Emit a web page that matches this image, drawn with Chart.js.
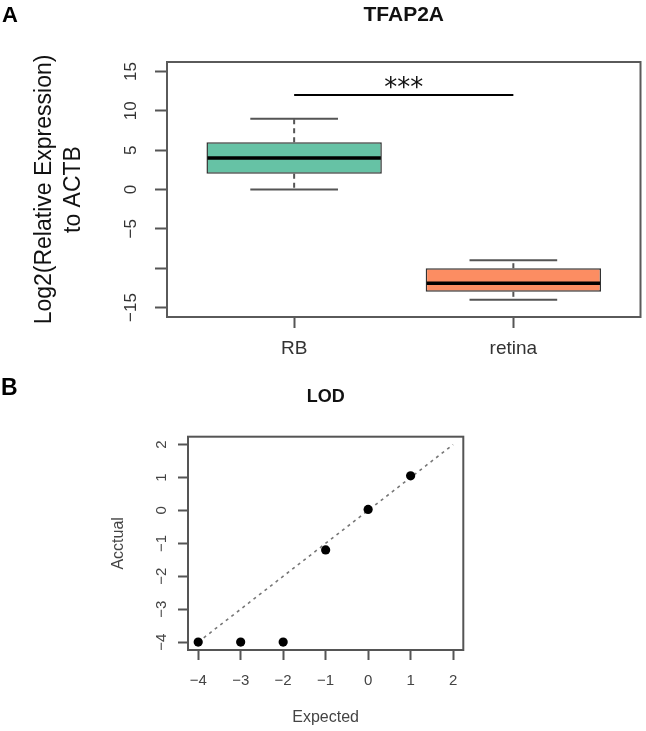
<!DOCTYPE html>
<html><head><meta charset="utf-8">
<script src="https://cdn.jsdelivr.net/npm/chart.js@4.4.1/dist/chart.umd.min.js"></script>
<style>
html,body{margin:0;padding:0;background:#fff;}
#wrap{position:relative;width:646px;height:731px;overflow:hidden;background:#fff;}
#cA{position:absolute;left:0;top:0;}
#cB{position:absolute;left:0;top:360px;}
</style></head><body>
<div id="wrap"><canvas id="cA" width="646" height="360"></canvas><canvas id="cB" width="646" height="371"></canvas></div>
<script>
// ---- Panel A: TFAP2A boxplot ----
const boxCategories = ['RB', 'retina'];
const boxMin    = [0, -14];
const boxQ1     = [2, -13];
const boxMedian = [4, -11.9];
const boxQ3     = [6, -10];
const boxMax    = [9, -9];
const boxFill   = ['#66C2A5', '#FC8D62'];
const aYTicks      = [-15, -10, -5, 0, 5, 10, 15];
const aYTickLabels = ['−15', '', '−5', '0', '5', '10', '15'];
const sigFrom = 1, sigTo = 2, sigY = 12, sigLabel = '***';

// ---- Panel B: LOD scatter ----
const lodExpected = [-4, -3, -2, -1, 0, 1];
const lodActual   = [-4, -4, -4, -1.2, 0.03, 1.05];
const refLineX = [-4, 2];
const refLineY = [-4, 2];
const bXTicks = [-4, -3, -2, -1, 0, 1, 2];
const bYTicks = [-4, -3, -2, -1, 0, 1, 2];

const FONT = '"Liberation Sans", Arial, Helvetica, sans-serif';
const fmt = v => v < 0 ? '−' + Math.abs(v) : String(v);

const framePlugin = {
  id: 'frame',
  afterDraw(chart, args, o) {
    const {ctx, chartArea: a} = chart;
    ctx.save();
    ctx.strokeStyle = o.color; ctx.lineWidth = o.width;
    ctx.strokeRect(a.left, a.top, a.right - a.left, a.bottom - a.top);
    ctx.restore();
  }
};

const letterPlugin = {
  id: 'letter',
  afterDraw(chart, args, o) {
    const ctx = chart.ctx;
    ctx.save();
    ctx.fillStyle = '#000';
    ctx.font = 'bold ' + o.size + 'px ' + FONT;
    ctx.textBaseline = 'alphabetic'; ctx.textAlign = 'left';
    ctx.fillText(o.text, o.x, o.y);
    ctx.restore();
  }
};

function seg(ctx, x1, y1, x2, y2) { ctx.beginPath(); ctx.moveTo(x1, y1); ctx.lineTo(x2, y2); ctx.stroke(); }

const boxPlugin = {
  id: 'boxExtras',
  beforeDatasetsDraw(chart) {
    const meta = chart.getDatasetMeta(0), y = chart.scales.y, ctx = chart.ctx;
    meta.data.forEach((bar, i) => {
      const x = bar.x, hw = bar.width / 4;
      const pMax = y.getPixelForValue(boxMax[i]), pMin = y.getPixelForValue(boxMin[i]);
      ctx.save();
      ctx.strokeStyle = '#555'; ctx.lineWidth = 2;
      ctx.setLineDash([5, 4]);
      seg(ctx, x, y.getPixelForValue(boxQ3[i]), x, pMax);
      seg(ctx, x, y.getPixelForValue(boxQ1[i]), x, pMin);
      ctx.setLineDash([]);
      seg(ctx, x - hw, pMax, x + hw, pMax);
      seg(ctx, x - hw, pMin, x + hw, pMin);
      ctx.restore();
    });
  },
  afterDatasetsDraw(chart) {
    const meta = chart.getDatasetMeta(0), xs = chart.scales.x, y = chart.scales.y, ctx = chart.ctx;
    meta.data.forEach((bar, i) => {
      const pm = y.getPixelForValue(boxMedian[i]);
      ctx.save(); ctx.strokeStyle = '#000'; ctx.lineWidth = 3.5;
      seg(ctx, bar.x - bar.width / 2 + 1, pm, bar.x + bar.width / 2 - 1, pm);
      ctx.restore();
    });
    ctx.save();
    ctx.fillStyle = '#111';
    ctx.font = '26px "DejaVu Sans", sans-serif';
    ctx.textAlign = 'center'; ctx.textBaseline = 'alphabetic';
    ctx.fillText(sigLabel, xs.getPixelForValue((sigFrom + sigTo) / 2), y.getPixelForValue(sigY) + 1);
    ctx.restore();
  }
};

new Chart(document.getElementById('cA'), {
  type: 'bar',
  data: {
    datasets: [
      { type: 'bar', data: boxCategories.map((c, i) => ({x: i + 1, y: [boxQ1[i], boxQ3[i]]})),
        backgroundColor: boxFill, borderColor: '#333', borderWidth: 1.5, borderSkipped: false,
        barPercentage: 0.8, categoryPercentage: 1, order: 2 },
      { type: 'line', data: [{x: sigFrom, y: sigY}, {x: sigTo, y: sigY}],
        borderColor: '#000', borderWidth: 2, pointRadius: 0, order: 1 }
    ]
  },
  options: {
    responsive: false, animation: false, devicePixelRatio: 1,
    layout: {padding: {left: 0, right: 5.5, top: 0, bottom: 0}},
    plugins: {
      legend: {display: false}, tooltip: {enabled: false},
      title: {display: true, text: 'TFAP2A', fullSize: false, color: '#111',
        font: {family: FONT, size: 21, weight: 'bold'}, padding: {top: 3, bottom: 33.8}},
      frame: {color: '#5a5a5a', width: 2},
      letter: {text: 'A', x: 2, y: 22, size: 22}
    },
    scales: {
      x: { type: 'linear', position: 'bottom', min: 0.42, max: 2.58, offset: false,
        afterBuildTicks: s => { s.ticks = boxCategories.map((c, i) => ({value: i + 1})); },
        afterFit: s => { s.height = 43; },
        ticks: { callback: (v, i) => boxCategories[i], font: {family: FONT, size: 19}, color: '#333',
          padding: 9.6, maxRotation: 0, autoSkip: false },
        grid: { display: true, offset: false, drawOnChartArea: false, drawTicks: true, tickLength: 11, tickColor: '#555', tickWidth: 2 },
        border: {display: false} },
      y: { min: -16.2, max: 16.2,
        afterBuildTicks: s => { s.ticks = aYTicks.map(v => ({value: v})); },
        afterFit: s => { s.width = 167; },
        ticks: { callback: (v, i) => aYTickLabels[i], minRotation: 90, maxRotation: 90, crossAlign: 'center',
          padding: 9.5, font: {family: FONT, size: 17}, color: '#333', autoSkip: false },
        grid: { display: true, drawOnChartArea: false, drawTicks: true, tickLength: 12, tickColor: '#555', tickWidth: 2 },
        border: {display: false},
        title: { display: true, text: ['Log2(Relative Expression)', 'to ACTB'], color: '#111',
          font: {family: FONT, size: 23, lineHeight: 29 / 23}, padding: {top: 30.5, bottom: 0} } }
    }
  },
  plugins: [framePlugin, boxPlugin, letterPlugin]
});

new Chart(document.getElementById('cB'), {
  type: 'scatter',
  data: {
    datasets: [
      { type: 'line', data: refLineX.map((x, i) => ({x: x, y: refLineY[i]})),
        borderColor: '#777', borderDash: [3, 4], borderWidth: 1.6, pointRadius: 0, showLine: true, order: 2 },
      { type: 'scatter', data: lodExpected.map((x, i) => ({x: x, y: lodActual[i]})),
        backgroundColor: '#000', borderColor: '#000', borderWidth: 0, pointRadius: 4.6, order: 1 }
    ]
  },
  options: {
    responsive: false, animation: false, devicePixelRatio: 1,
    layout: {padding: {left: 0, right: 182.7, top: 0, bottom: 0}},
    plugins: {
      legend: {display: false}, tooltip: {enabled: false},
      title: {display: true, text: 'LOD', fullSize: false, color: '#111',
        font: {family: FONT, size: 18, weight: 'bold'}, padding: {top: 25.9, bottom: 29.2}},
      frame: {color: '#555', width: 2},
      letter: {text: 'B', x: 1, y: 35, size: 23}
    },
    scales: {
      x: { type: 'linear', min: -4.24, max: 2.24,
        afterBuildTicks: s => { s.ticks = bXTicks.map(v => ({value: v})); },
        afterFit: s => { s.height = 81; },
        ticks: { callback: v => fmt(v), font: {family: FONT, size: 15}, color: '#444', padding: 12, maxRotation: 0, autoSkip: false },
        grid: { display: true, drawOnChartArea: false, drawTicks: true, tickLength: 10, tickColor: '#555', tickWidth: 2 },
        border: {display: false},
        title: { display: true, text: 'Expected', color: '#444', font: {family: FONT, size: 16}, padding: {top: 0, bottom: 3.4} } },
      y: { type: 'linear', min: -4.24, max: 2.24,
        afterBuildTicks: s => { s.ticks = bYTicks.map(v => ({value: v})); },
        afterFit: s => { s.width = 188; },
        ticks: { callback: v => fmt(v), minRotation: 90, maxRotation: 90, crossAlign: 'center',
          padding: 8, font: {family: FONT, size: 15}, color: '#444', autoSkip: false },
        grid: { display: true, drawOnChartArea: false, drawTicks: true, tickLength: 10, tickColor: '#555', tickWidth: 2 },
        border: {display: false},
        title: { display: true, text: 'Acctual', color: '#444', font: {family: FONT, size: 16}, padding: {top: 109.4, bottom: 0} } }
    }
  },
  plugins: [framePlugin, letterPlugin]
});
</script>
</body></html>
